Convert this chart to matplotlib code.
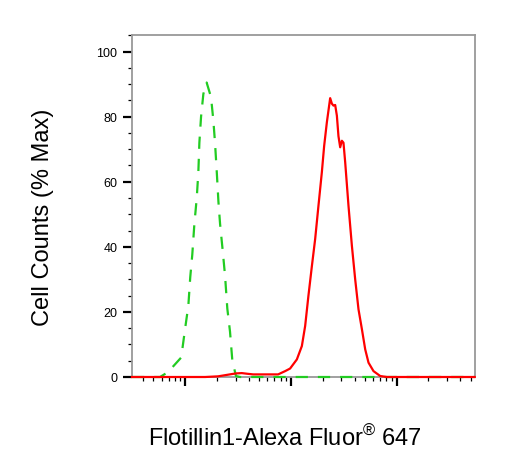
import numpy as np
import matplotlib
matplotlib.use("Agg")
import matplotlib.pyplot as plt
from matplotlib.ticker import LogLocator, MultipleLocator, NullFormatter

plt.rcParams['font.family'] = ['Liberation Sans', 'DejaVu Sans']
plt.rcParams['mathtext.fontset'] = 'custom'
plt.rcParams['mathtext.rm'] = 'Liberation Sans'

# isotype control (green dashed)
ctrl_x = [31.5, 58, 69, 92, 100, 107.5, 112, 117, 122.5, 129, 133.6, 136.6, 141.7,
          149, 160, 176, 185, 192, 199.5, 206.7, 214.4, 227.5, 239, 251, 266, 280,
          303, 331, 54700]
ctrl_y = [0, 0, 1.5, 6, 14.7, 22, 30.7, 37.5, 47, 55, 63, 72, 80,
          87, 90.5, 86, 79, 72, 63, 54, 47, 38.5, 31, 21, 14, 5,
          0.3, 0, 0]

# Flotillin1 stained sample (red)
sample_x = [31.5, 155, 205, 277, 304, 344, 386, 440, 571, 758, 883, 984, 1140,
            1271, 1366, 1467, 1580, 1698, 1824, 1965, 2065, 2191, 2354, 2443,
            2530, 2625, 2724, 2820, 2927, 3038, 3145, 3264, 3508, 3777, 4058,
            4361, 4696, 5046, 5424, 6047, 6997, 8094, 54700]
sample_y = [0, 0, 0.2, 0.9, 1.1, 1.2, 1.0, 0.8, 0.8, 0.8, 1.8, 2.6, 5.4,
            9.5, 15.7, 25, 34, 42.4, 52.6, 63, 71, 78.3, 85.7, 84,
            83.4, 83.6, 80.3, 74, 70.6, 72.6, 72, 66, 52.6, 40.3, 30,
            20.8, 14.7, 8.5, 4.4, 1.8, 0.3, 0, 0]

fig = plt.figure(figsize=(5.25, 4.77), dpi=100)
ax = fig.add_axes([132 / 525, 1 - 378 / 477, (474.7 - 132) / 525, (378 - 36) / 477])

ax.plot(ctrl_x, ctrl_y, color='#22cc22', lw=1.6, dashes=(5.5, 4.5), zorder=3, clip_on=False)
ax.plot(sample_x, sample_y, color='#ff0000', lw=1.6, zorder=4, clip_on=False)

ax.set_xscale('log')
ax.set_xlim(10 ** 1.4986, 10 ** 4.738)
ax.set_ylim(0, 105.1)

ax.xaxis.set_major_locator(LogLocator(base=10))
ax.xaxis.set_minor_locator(LogLocator(base=10, subs=np.arange(2, 10)))
ax.xaxis.set_major_formatter(NullFormatter())
ax.xaxis.set_minor_formatter(NullFormatter())
ax.yaxis.set_major_locator(MultipleLocator(20))
ax.yaxis.set_minor_locator(MultipleLocator(5))

ax.tick_params(axis='both', which='major', direction='out', length=6.5, width=1.6,
               color='black', labelsize=9, pad=4)
ax.tick_params(axis='both', which='minor', direction='out', length=3.2, width=0.9,
               color='black')

for sp in ax.spines.values():
    sp.set_color('#999999')
    sp.set_linewidth(1.3)

fig.text(43 / 525, 1 - 217 / 477, 'Cell Counts (% Max)', rotation=90,
         ha='center', va='center', fontsize=17)
fig.text(285.4 / 525, 1 - 446 / 477, 'Flotillin1-Alexa Fluor$^{®}$ 647',
         ha='center', va='baseline', fontsize=17)

fig.savefig('out.png', dpi=100)
